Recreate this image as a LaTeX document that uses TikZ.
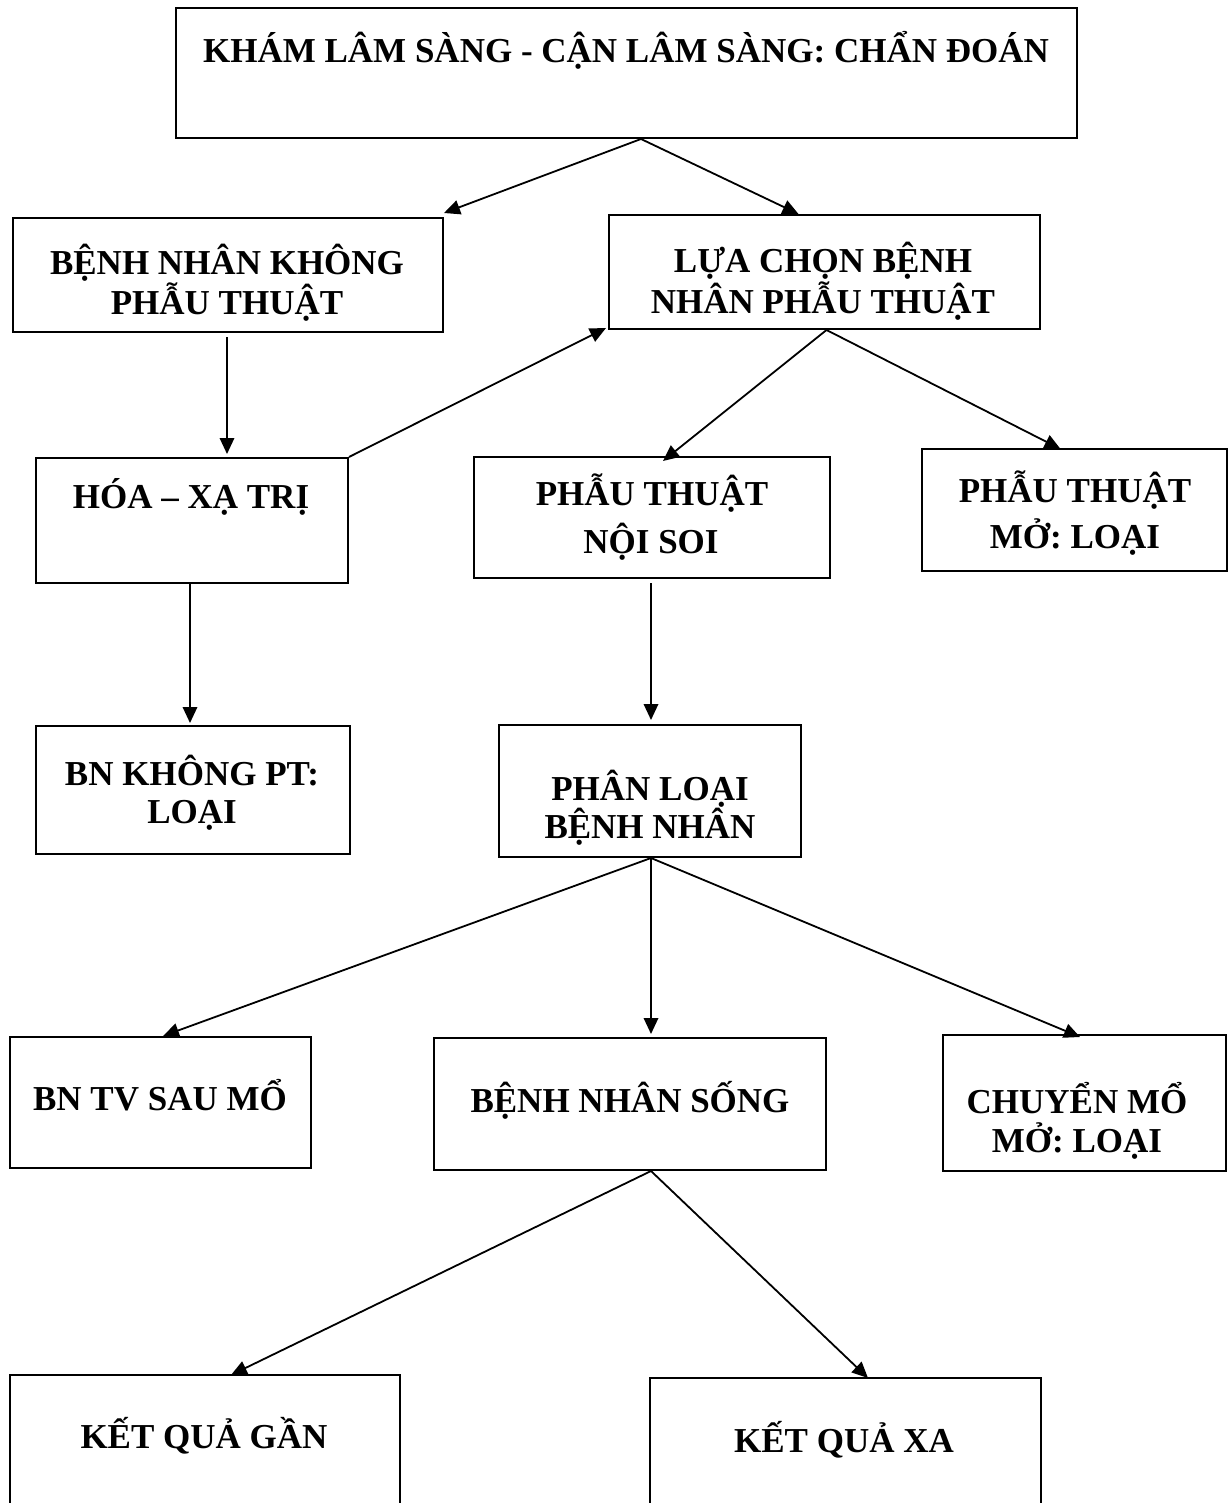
\documentclass[tikz,border=0pt]{standalone}
\usepackage{fontspec}
\setmainfont{Liberation Serif}
\usetikzlibrary{arrows.meta,fit}
\begin{document}
\begin{tikzpicture}[x=1pt,y=-1pt,
  box/.style={draw, line width=2pt, inner sep=0pt},
  lbl/.style={anchor=base, inner sep=0pt, font=\fontsize{35}{40}\selectfont\bfseries},
  arr/.style={line width=1.8pt, -{Triangle[length=16pt,width=14.5pt]}}]
\useasboundingbox (0,0) rectangle (1230,1503);

% boxes
\node[box, fit={(176,8) (1077,138)}] (top) {};
\node[box, fit={(13,218) (443,332)}] (n1) {};
\node[box, fit={(609,215) (1040,329)}] (n2) {};
\node[box, fit={(36,458) (348,583)}] (n3) {};
\node[box, fit={(474,457) (830,578)}] (n4) {};
\node[box, fit={(922,449) (1227,571)}] (n5) {};
\node[box, fit={(36,726) (350,854)}] (n6) {};
\node[box, fit={(499,725) (801,857)}] (n7) {};
\node[box, fit={(10,1037) (311,1168)}] (n8) {};
\node[box, fit={(434,1038) (826,1170)}] (n9) {};
\node[box, fit={(943,1035) (1226,1171)}] (n10) {};
\node[box, fit={(10,1375) (400,1520)}] (n11) {};
\node[box, fit={(650,1378) (1041,1520)}] (n12) {};

% texts
\node[lbl] (t0) at (626,63) {KHÁM LÂM SÀNG - CẬN LÂM SÀNG: CHẨN ĐOÁN};
\node[lbl] (t1a) at (227,275) {BỆNH NHÂN KHÔNG};
\node[lbl] (t1b) at (227,315) {PHẪU THUẬT};
\node[lbl] (t2a) at (823,273) {LỰA CHỌN BỆNH};
\node[lbl] (t2b) at (823,313) {NHÂN PHẪU THUẬT};
\node[lbl] (t3) at (191,508) {HÓA – XẠ TRỊ};
\node[lbl] (t4a) at (652,505) {PHẪU THUẬT};
\node[lbl] (t4b) at (651,553) {NỘI SOI};
\node[lbl] (t5a) at (1075,502) {PHẪU THUẬT};
\node[lbl] (t5b) at (1075,548) {MỞ: LOẠI};
\node[lbl] (t6a) at (192,785) {BN KHÔNG PT:};
\node[lbl] (t6b) at (192,823) {LOẠI};
\node[lbl] (t7a) at (650,800) {PHÂN LOẠI};
\node[lbl] (t7b) at (650,838) {BỆNH NHÂN};
\node[lbl] (t8) at (160,1110) {BN TV SAU MỔ};
\node[lbl] (t9) at (630,1112) {BỆNH NHÂN SỐNG};
\node[lbl] (t10a) at (1077,1113) {CHUYỂN MỔ};
\node[lbl] (t10b) at (1077,1152) {MỞ: LOẠI};
\node[lbl] (t11) at (204,1448) {KẾT QUẢ GẦN};
\node[lbl] (t12) at (844,1452) {KẾT QUẢ XA};

% connectors
\draw[arr] ([xshift=14.5pt]top.south) -- ([yshift=4pt]n1.north east);
\draw[arr] ([xshift=14.5pt]top.south) -- ([xshift=-26pt]n2.north);
\draw[arr, shorten <=4pt, shorten >=3pt] ([xshift=-1pt]n1.south) -- ([xshift=-1pt]n1.south |- n3.north);
\draw[arr] (n3.north east) -- ([xshift=-2pt,yshift=2pt]n2.south west);
\draw[arr] ([xshift=2pt]n2.south) -- ([xshift=11pt,yshift=-5pt]n4.north);
\draw[arr] ([xshift=2pt]n2.south) -- ([xshift=-14pt,yshift=-1pt]n5.north);
\draw[arr, shorten >=2pt] ([xshift=-2pt]n3.south) -- ([xshift=-2pt]n3.south |- n6.north);
\draw[arr, shorten <=4pt, shorten >=4pt] ([xshift=-1pt]n4.south) -- ([xshift=-1pt]n4.south |- n7.north);
\draw[arr] ([xshift=1pt]n7.south) -- ([xshift=2.5pt]n8.north);
\draw[arr, shorten >=3pt] ([xshift=1pt]n7.south) -- ([xshift=1pt]n7.south |- n9.north);
\draw[arr] ([xshift=1pt]n7.south) -- ([xshift=-4.5pt,yshift=-3pt]n10.north);
\draw[arr] ([xshift=21pt]n9.south) -- ([xshift=26pt,yshift=-1pt]n11.north);
\draw[arr] ([xshift=21pt]n9.south) -- ([xshift=22.5pt,yshift=-1pt]n12.north);
\end{tikzpicture}
\end{document}
